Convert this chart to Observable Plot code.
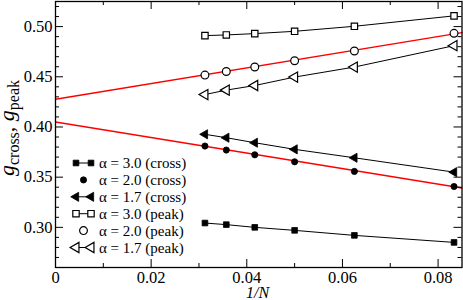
<!DOCTYPE html>
<html><head><meta charset="utf-8">
<script src="https://cdn.jsdelivr.net/npm/d3@7"></script>
<script src="https://cdn.jsdelivr.net/npm/@observablehq/plot@0.6"></script>
<style>
body{margin:0;background:#fff}
svg, svg text { font-family: "Liberation Serif", "Times New Roman", serif !important; }
</style>
</head><body><div id="chart"></div>
<script>
// 1/N values (N = 32, 28, 24, 20, 16, 12)
const invN = [1/32, 1/28, 1/24, 1/20, 1/16, 1/12];
const cross30 = [0.3043, 0.3027, 0.3000, 0.2970, 0.2920, 0.2850];
const cross20 = [0.3810, 0.3770, 0.3723, 0.3653, 0.3557, 0.3407];
const cross17 = [0.3927, 0.3893, 0.3843, 0.3777, 0.3693, 0.3550];
const peak30  = [0.4910, 0.4917, 0.4930, 0.4953, 0.5003, 0.5107];
const peak20  = [0.4517, 0.4553, 0.4597, 0.4660, 0.4757, 0.4933];
const peak17  = [0.4323, 0.4367, 0.4413, 0.4497, 0.4597, 0.4810];
// linear fits (red)
const fitX = [0, 0.085];
const fitPeak = [0.4277, 0.4940];
const fitCross = [0.4050, 0.3393];
// ticks
const xTicks = [0, 0.02, 0.04, 0.06, 0.08];
const xMinor = [0.01, 0.03, 0.05, 0.07];
const yTicks = [0.30, 0.35, 0.40, 0.45, 0.50];
const yMinor = [0.27,0.28,0.29,0.31,0.32,0.33,0.34,0.36,0.37,0.38,0.39,0.41,0.42,0.43,0.44,0.46,0.47,0.48,0.49,0.51,0.52];
const labels = ["α = 3.0 (cross)","α = 2.0 (cross)","α = 1.7 (cross)","α = 3.0 (peak)","α = 2.0 (peak)","α = 1.7 (peak)"];

const series = [
  {label: labels[0], y: cross30, symbol: "square",   filled: true,  line: true,  r: 3.2, rotate: 0},
  {label: labels[1], y: cross20, symbol: "circle",   filled: true,  line: false, r: 3.1, rotate: 0},
  {label: labels[2], y: cross17, symbol: "triangle", filled: true,  line: true,  r: 3.4, rotate: -90},
  {label: labels[3], y: peak30,  symbol: "square",   filled: false, line: true,  r: 3.6, rotate: 0},
  {label: labels[4], y: peak20,  symbol: "circle",   filled: false, line: false, r: 3.9, rotate: 0},
  {label: labels[5], y: peak17,  symbol: "triangle", filled: false, line: true,  r: 3.8, rotate: -90}
];
const rowsOf = s => invN.map((x, i) => ({x, y: s.y[i]}));
const fitRows = ys => fitX.map((x, i) => ({x, y: ys[i]}));

const W = 463, H = 300, mt = 1, mb = 33, ml = 55, mr = 1.5;
const fh = H - mt - mb, fw = W - ml - mr;
const maj = 8, mnr = 4;
const FONT = "'Liberation Serif', 'Times New Roman', serif";

const marks = [
  Plot.line(fitRows(fitPeak), {x: "x", y: "y", stroke: "red", strokeWidth: 1.5}),
  Plot.line(fitRows(fitCross), {x: "x", y: "y", stroke: "red", strokeWidth: 1.5}),
  ...series.filter(s => s.line).map(s => Plot.line(rowsOf(s), {x: "x", y: "y", stroke: "black", strokeWidth: 1})),
  ...series.map(s => Plot.dot(rowsOf(s), {x: "x", y: "y", symbol: s.symbol, r: s.r, rotate: s.rotate,
      fill: s.filled ? "black" : "white", stroke: "black", strokeWidth: s.filled ? 0.8 : 1.2})),
  // inward ticks on all four sides
  Plot.tickX(xTicks, {x: d => d, insetTop: fh - maj, strokeWidth: 1}),
  Plot.tickX(xTicks, {x: d => d, insetBottom: fh - maj, strokeWidth: 1}),
  Plot.tickX(xMinor, {x: d => d, insetTop: fh - mnr, strokeWidth: 1}),
  Plot.tickX(xMinor, {x: d => d, insetBottom: fh - mnr, strokeWidth: 1}),
  Plot.tickY(yTicks, {y: d => d, insetRight: fw - maj, strokeWidth: 1}),
  Plot.tickY(yTicks, {y: d => d, insetLeft: fw - maj, strokeWidth: 1}),
  Plot.tickY(yMinor, {y: d => d, insetRight: fw - mnr, strokeWidth: 1}),
  Plot.tickY(yMinor, {y: d => d, insetLeft: fw - mnr, strokeWidth: 1}),
  Plot.axisX(xTicks, {tickSize: 0, tickPadding: 4, fontSize: 16.5, fontFamily: FONT, label: null,
      tickFormat: d => d === 0 ? "0" : d3.format(".2f")(d)}),
  Plot.axisY(yTicks, {tickSize: 0, tickPadding: 3, fontSize: 16.5, fontFamily: FONT, label: null,
      tickFormat: d3.format(".2f")}),
  Plot.frame({stroke: "black", strokeWidth: 1.3})
];

const chart = Plot.plot({
  width: W, height: H, marginTop: mt, marginBottom: mb, marginLeft: ml, marginRight: mr,
  x: {domain: [0, 0.085]},
  y: {domain: [0.26, 0.525]},
  style: {fontFamily: FONT, fontSize: "16px", background: "white", color: "black"},
  marks
});
document.getElementById("chart").appendChild(chart);

const svg = d3.select(chart);
// x label
svg.append("text").attr("x", 257.5).attr("y", 297.5).attr("text-anchor", "middle")
  .attr("font-family", FONT).attr("font-style", "italic").attr("font-size", 16).attr("fill", "black").text("1/N");
// y label with subscripts
const yl = svg.append("text").attr("transform", "translate(14,128) rotate(-90)")
  .attr("text-anchor", "middle").attr("font-family", FONT).attr("font-size", 22).attr("fill", "black");
yl.append("tspan").attr("font-style", "italic").text("g");
yl.append("tspan").attr("font-size", 16).attr("dy", 5).text("cross");
yl.append("tspan").attr("dy", -5).text(", ");
yl.append("tspan").attr("font-style", "italic").text("g");
yl.append("tspan").attr("font-size", 16).attr("dy", 5).text("peak");

// legend
const lg = svg.append("g");
series.forEach((s, i) => {
  const cy = 163 + i * 16.9;
  const sym = d3.symbol().type(s.symbol === "square" ? d3.symbolSquare : s.symbol === "circle" ? d3.symbolCircle : d3.symbolTriangle)
    .size(Math.PI * s.r * s.r);
  const fill = s.filled ? "black" : "white";
  const sw = s.filled ? 0.8 : 1.2;
  if (s.line) {
    lg.append("line").attr("x1", 76).attr("x2", 91).attr("y1", cy).attr("y2", cy).attr("stroke", "black");
    [76, 91].forEach(cx => lg.append("path").attr("d", sym())
      .attr("transform", `translate(${cx},${cy}) rotate(${s.rotate})`)
      .attr("fill", fill).attr("stroke", "black").attr("stroke-width", sw));
  } else {
    lg.append("path").attr("d", sym()).attr("transform", `translate(83.5,${cy})`)
      .attr("fill", fill).attr("stroke", "black").attr("stroke-width", sw);
  }
  lg.append("text").attr("x", 99).attr("y", cy + 5).attr("text-anchor", "start")
    .attr("font-family", FONT).attr("font-size", 15).attr("fill", "black").text(s.label);
});
</script>
</body></html>
